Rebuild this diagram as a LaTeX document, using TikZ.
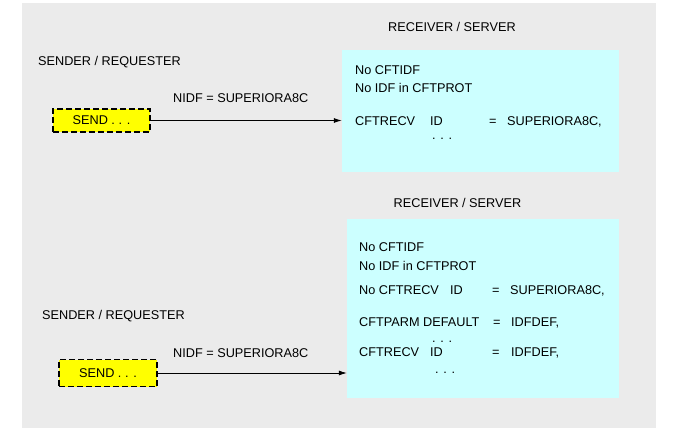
\documentclass[tikz,border=0pt]{standalone}
\usepackage{fontspec}
\setmainfont{Liberation Sans}
\usetikzlibrary{arrows.meta}
\definecolor{bggray}{HTML}{EBEBEB}
\definecolor{rcvcyan}{HTML}{CCFFFF}
\definecolor{sendyellow}{HTML}{FFFF00}
\begin{document}
\begin{tikzpicture}[x=1pt,y=-1pt,
  every node/.style={font=\fontsize{12.7}{15}\selectfont},
  txt/.style={anchor=base west,inner sep=0pt},
  ctxt/.style={anchor=base,inner sep=0pt},
  rcvbox/.style={fill=rcvcyan,draw=none,inner sep=0pt},
  sendbox/.style={fill=sendyellow,draw=black,line width=1.6pt,dash pattern=on 6pt off 3pt,inner sep=0pt},
  flow/.style={draw=black,line width=0.8pt,-{Latex[length=8pt,width=5pt]}}
]
\useasboundingbox (0,0) rectangle (689,431);
\fill[bggray] (22,3) rectangle (656,428);

% receiver boxes
\node[rcvbox,minimum width=277pt,minimum height=122pt] (rb1) at (480.5,111) {};
\node[rcvbox,minimum width=272pt,minimum height=179pt] (rb2) at (483,308.5) {};

% titles
\node[ctxt] (rt1) at (452,31.5) {RECEIVER / SERVER};
\node[ctxt] (rt2) at (457.5,207.5) {RECEIVER / SERVER};
\node[txt] (st1) at (38,65.5) {SENDER / REQUESTER};
\node[txt] (st2) at (42,319.5) {SENDER / REQUESTER};

% send boxes
\node[sendbox,minimum width=97pt,minimum height=23pt] (s1) at (101.5,120.5) {SEND . . .};
\node[sendbox,minimum width=98pt,minimum height=27pt] (s2) at (108,373) {SEND . . .};

% connectors
\draw[flow] (s1.east) -- (s1.east -| rb1.west);
\draw[flow] (s2.east) -- (s2.east -| rb2.west);
\node[txt] (n1) at (173,102.5) {NIDF = SUPERIORA8C};
\node[txt] (n2) at (173,357.5) {NIDF = SUPERIORA8C};

% box 1 text
\node[txt] (a1) at (355,74.5) {No CFTIDF};
\node[txt] (a2) at (355,92.5) {No IDF in CFTPROT};
\node[txt] (a3) at (355,125.5) {CFTRECV};
\node[txt] (a3b) at (430,125.5) {ID};
\node[txt] (a3c) at (489,125.5) {=};
\node[txt] (a3d) at (507,125.5) {SUPERIORA8C,};
\node[txt] (a4) at (432,139) {. . .};

% box 2 text
\node[txt] (b1) at (359,251.5) {No CFTIDF};
\node[txt] (b2) at (359,270.5) {No IDF in CFTPROT};
\node[txt] (b3) at (359,294.5) {No CFTRECV};
\node[txt] (b3b) at (450,294.5) {ID};
\node[txt] (b3c) at (492,294.5) {=};
\node[txt] (b3d) at (510,294.5) {SUPERIORA8C,};
\node[txt] (b4) at (359,326.5) {CFTPARM DEFAULT};
\node[txt] (b4c) at (493,326.5) {=};
\node[txt] (b4d) at (511,326.5) {IDFDEF,};
\node[txt] (b5) at (432,342) {. . .};
\node[txt] (b6) at (359,356.5) {CFTRECV};
\node[txt] (b6b) at (430,356.5) {ID};
\node[txt] (b6c) at (492,356.5) {=};
\node[txt] (b6d) at (511,356.5) {IDFDEF,};
\node[txt] (b7) at (435,373) {. . .};
\end{tikzpicture}
\end{document}
